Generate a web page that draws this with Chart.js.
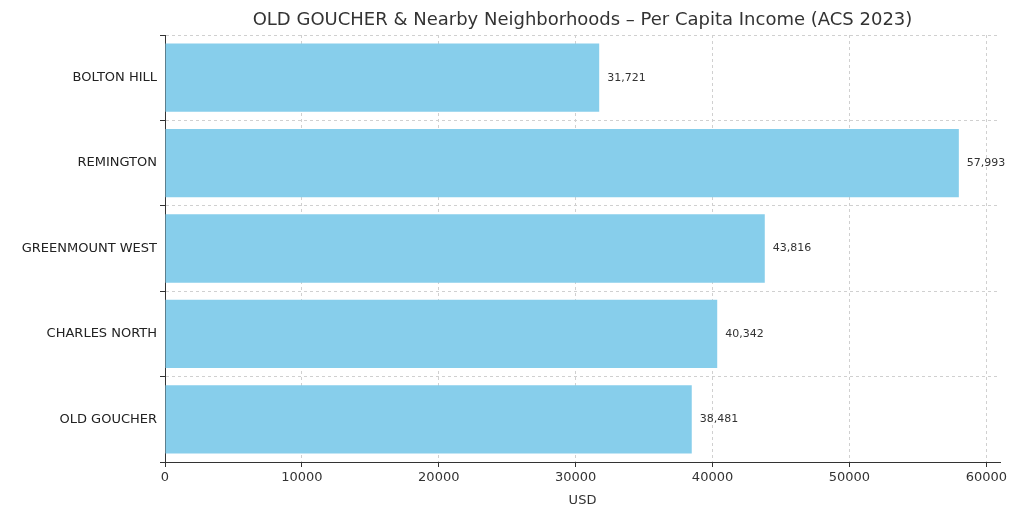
<!DOCTYPE html>
<html><head><meta charset="utf-8">
<script src="https://cdn.jsdelivr.net/npm/chart.js@4"></script>
<style>html,body{margin:0;padding:0;background:#fff}#w{width:1024px;height:512px}</style>
</head><body><div id="w"><canvas id="c"></canvas></div>
<script>
const categories = ["BOLTON HILL","REMINGTON","GREENMOUNT WEST","CHARLES NORTH","OLD GOUCHER"];
const incomes = [31721,57993,43816,40342,38481];
const xTicks = [0,10000,20000,30000,40000,50000,60000];
const titleText = "OLD GOUCHER & Nearby Neighborhoods – Per Capita Income (ACS 2023)";
const FONT = "DejaVu Sans";
const labels = {
  id:'labels',
  afterDatasetsDraw(chart){
    const ctx=chart.ctx, meta=chart.getDatasetMeta(0);
    ctx.save(); ctx.font="11px "+FONT; ctx.fillStyle="#333"; ctx.textBaseline="middle";
    meta.data.forEach((b,i)=>{ctx.fillText(incomes[i].toLocaleString('en-US'), b.x+8, b.y);});
    const a=chart.chartArea;
    ctx.font="18px "+FONT; ctx.fillStyle="#333"; ctx.textAlign="center";
    ctx.fillText(titleText,(a.left+a.right)/2,20);
    ctx.restore();
  }
};
new Chart(document.getElementById('c'),{
  type:'bar',
  data:{labels:categories,datasets:[{data:incomes,backgroundColor:'#87CEEB',categoryPercentage:1,barPercentage:0.8}]},
  plugins:[labels],
  options:{
    indexAxis:'y',responsive:true,maintainAspectRatio:false,animation:false,
    layout:{padding:{top:35,right:24,left:0,bottom:0}},
    plugins:{legend:{display:false},tooltip:{enabled:false}},
    scales:{
      x:{min:0,max:61000,afterBuildTicks(s){s.ticks=xTicks.map(v=>({value:v}));},
        afterFit(s){s.height=50;},
        ticks:{color:'#333',font:{family:FONT,size:13},maxRotation:0,callback:v=>String(v)},
        grid:{color:'#d0d0d0',drawTicks:true,tickColor:'#333',tickLength:5},
        border:{color:'#333',dash:[3,3]},
        title:{display:true,text:'USD',color:'#333',font:{family:FONT,size:13},padding:{top:2}}},
      y:{afterFit(s){s.width=165;},
        ticks:{color:'#222',font:{family:FONT,size:13}},
        grid:{color:'#d0d0d0',tickColor:'#333',tickLength:5},
        border:{color:'#333',dash:[3,3]}}
    }
  }
});
</script></body></html>
